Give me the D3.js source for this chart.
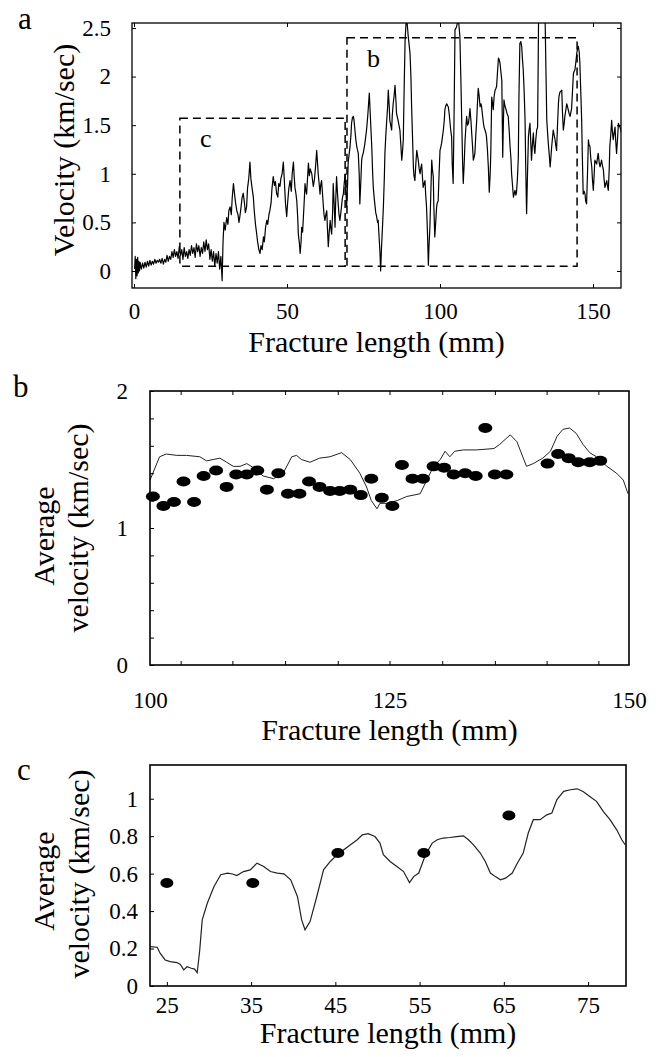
<!DOCTYPE html>
<html>
<head>
<meta charset="utf-8">
<script src="https://cdn.jsdelivr.net/npm/d3@7"></script>
<style>
  body { margin: 0; background: #fff; }
</style>
</head>
<body>
<div class="chart"></div>
<script>
// ---- panel a: raw velocity trace [fracture length (mm), velocity (km/sec)]
var traceA = [
  [0.2,0.02],[0.4,0.15],[0.6,-0.08],[0.8,0.12],[1.0,-0.05],[1.2,0.14],[1.4,-0.02],[1.6,0.1],[1.8,0.0],[2.0,0.09],
  [2.4,0.02],[2.8,0.08],[3.2,0.03],[3.6,0.09],[4.0,0.04],[4.4,0.1],[4.8,0.05],[5.2,0.11],[5.6,0.06],[6.0,0.1],
  [6.4,0.07],[6.8,0.12],[7.2,0.08],[7.6,0.11],[8.0,0.09],[8.4,0.12],[8.8,0.08],[9.2,0.13],[9.6,0.07],[10.0,0.12],
  [10.4,0.09],[10.8,0.16],[11.2,0.1],[11.6,0.15],[12.0,0.12],[12.4,0.2],[12.8,0.14],[13.2,0.22],[13.6,0.15],[14.0,0.2],
  [14.4,0.13],[14.8,0.25],[15.2,0.16],[15.6,0.22],[16.0,0.12],[16.4,0.24],[16.8,0.15],[17.2,0.2],[17.6,0.13],[18.0,0.22],
  [18.4,0.16],[18.8,0.26],[19.2,0.18],[19.6,0.24],[20.0,0.14],[20.4,0.28],[20.8,0.2],[21.2,0.26],[21.6,0.15],[22.0,0.24],
  [22.4,0.18],[22.8,0.3],[23.2,0.2],[23.6,0.32],[24.0,0.22],[24.4,0.28],[24.8,0.12],[25.2,0.22],[25.6,0.1],[26.0,0.2],
  [26.4,0.05],[26.8,0.18],[27.2,0.08],[27.6,0.2],[28.0,0.02],[28.4,0.15],[28.8,-0.1],[29.1,0.3],[29.4,0.5],[29.8,0.42],
  [30.3,0.55],[30.7,0.48],[31.0,0.62],[31.4,0.66],[31.8,0.58],[32.1,0.75],[32.5,0.9],[32.9,0.78],[33.2,0.7],[33.6,0.62],
  [34.0,0.58],[34.3,0.5],[34.6,0.56],[35.0,0.66],[35.3,0.75],[35.7,0.8],[36.1,0.7],[36.4,0.6],[36.8,0.66],[37.1,0.85],
  [37.5,0.95],[37.9,1.12],[38.2,0.95],[38.6,0.85],[39.0,0.76],[39.3,0.62],[39.7,0.48],[40.1,0.38],[40.4,0.3],[40.8,0.22],
  [41.2,0.18],[41.5,0.26],[41.9,0.22],[42.3,0.35],[42.6,0.3],[43.0,0.45],[43.4,0.52],[43.7,0.48],[44.1,0.58],[44.4,0.62],
  [44.8,0.7],[45.1,0.85],[45.5,0.97],[45.9,0.88],[46.2,0.92],[46.6,0.8],[47.0,0.76],[47.3,0.9],[47.7,0.87],[48.0,0.95],
  [48.4,1.0],[48.8,1.12],[49.1,0.95],[49.5,0.7],[49.9,0.56],[50.2,0.7],[50.6,0.85],[51.0,0.93],[51.4,0.82],[51.7,1.0],
  [52.1,1.12],[52.4,0.95],[52.6,0.86],[52.9,0.8],[53.2,0.72],[53.5,0.55],[53.7,0.38],[54.0,0.3],[54.3,0.18],[54.6,0.3],
  [54.8,0.45],[55.1,0.4],[55.3,0.52],[55.6,0.7],[55.9,0.9],[56.1,0.84],[56.4,0.79],[56.7,0.95],[57.0,1.11],[57.3,0.98],
  [57.6,1.05],[58.1,1.0],[58.4,0.92],[58.6,0.87],[59.0,0.95],[59.4,1.1],[59.7,1.24],[60.0,1.1],[60.2,1.0],[60.5,0.9],
  [60.8,0.79],[61.0,0.88],[61.3,0.93],[61.6,0.8],[61.9,0.66],[62.1,0.58],[62.4,0.52],[62.7,0.58],[63.0,0.62],[63.2,0.45],
  [63.5,0.25],[63.8,0.4],[64.1,0.52],[64.3,0.45],[64.6,0.38],[64.9,0.6],[65.1,0.9],[65.4,0.7],[65.7,0.45],[65.9,0.7],
  [66.2,0.97],[66.5,0.8],[66.8,0.66],[67.0,0.58],[67.3,0.52],[67.6,0.6],[67.9,0.69],[68.1,0.75],[68.4,0.79],[68.7,0.9],
  [69.0,1.0],[69.2,0.85],[69.5,0.66],[69.8,0.9],[70.0,1.12],[70.3,1.2],[70.6,1.28],[70.9,1.4],[71.1,1.52],[71.4,1.58],
  [71.7,1.59],[71.9,1.55],[72.2,1.45],[72.5,1.35],[72.8,1.28],[73.0,1.25],[73.3,1.21],[73.6,1.0],[73.8,0.69],[74.1,0.9],
  [74.4,1.14],[74.6,1.18],[74.9,1.21],[75.4,1.3],[76.0,1.45],[76.4,1.6],[76.9,1.83],[77.3,1.55],[77.7,1.28],[78.0,1.0],
  [78.2,0.86],[78.5,0.75],[78.7,0.69],[79.0,0.6],[79.3,0.56],[79.6,0.5],[79.8,0.52],[80.1,0.35],[80.4,0.18],[80.6,0.0],
  [80.9,0.25],[81.2,0.45],[81.5,0.66],[81.8,0.95],[82.0,1.21],[82.3,1.4],[82.6,1.55],[82.9,1.7],[83.1,1.86],[83.4,1.7],
  [83.6,1.55],[83.9,1.5],[84.2,1.45],[84.4,1.6],[84.7,1.72],[85.0,1.8],[85.3,1.91],[85.6,1.75],[85.8,1.62],[86.3,1.55],
  [86.9,1.45],[87.2,1.3],[87.5,1.14],[87.8,1.25],[88.0,1.35],[88.3,1.9],[88.6,2.38],[88.9,2.55],[89.1,2.6],[89.4,2.5],
  [89.6,2.42],[90.0,2.3],[90.2,2.24],[90.5,2.0],[90.7,1.72],[91.0,1.4],[91.3,1.07],[91.5,0.98],[91.8,0.93],[92.1,1.1],
  [92.4,1.24],[92.6,1.2],[92.9,1.14],[93.2,1.05],[93.5,1.0],[93.7,1.05],[94.0,1.1],[94.3,0.95],[94.5,0.86],[94.8,0.9],
  [95.1,0.93],[95.3,0.8],[95.6,0.66],[95.9,0.4],[96.2,0.06],[96.4,0.25],[96.7,0.45],[97.0,0.8],[97.3,1.14],[97.5,1.05],
  [97.8,0.97],[98.0,0.65],[98.3,0.35],[98.6,0.5],[98.9,0.66],[99.1,0.7],[99.4,0.72],[99.7,1.0],[100.0,1.24],[100.3,1.28],
  [100.5,1.31],[100.8,1.38],[101.1,1.45],[101.4,1.55],[101.6,1.66],[101.9,1.7],[102.2,1.72],[102.5,1.7],[102.7,1.69],[103.0,1.62],
  [103.2,1.55],[103.5,1.45],[103.8,1.38],[104.0,1.1],[104.3,0.9],[104.6,1.6],[104.9,2.48],[105.4,2.51],[106.0,2.6],[106.5,2.41],
  [106.8,2.0],[107.1,1.55],[107.4,1.1],[107.6,0.9],[107.9,1.1],[108.2,1.35],[108.5,1.5],[108.7,1.59],[109.0,1.5],[109.3,1.52],
  [109.6,1.6],[109.8,1.67],[110.1,1.55],[110.3,1.45],[110.6,1.3],[110.9,1.14],[111.2,1.18],[111.4,1.21],[111.7,1.4],[112.0,1.55],
  [112.2,1.7],[112.5,1.88],[112.8,1.8],[113.1,1.69],[113.4,1.72],[113.6,1.69],[113.9,1.6],[114.2,1.52],[114.4,1.48],[114.7,1.45],
  [115.0,1.42],[115.2,1.38],[115.5,1.25],[115.8,1.07],[116.1,0.81],[116.4,1.0],[116.6,1.21],[116.9,1.79],[117.2,1.72],[117.4,1.66],
  [117.7,1.8],[118.0,1.86],[118.3,1.88],[118.5,1.9],[118.8,2.05],[119.1,2.19],[119.3,2.18],[119.6,2.14],[119.9,2.05],[120.2,1.96],
  [120.5,1.17],[120.7,1.5],[120.9,1.76],[121.2,1.7],[121.6,1.66],[121.9,1.62],[122.3,1.59],[122.6,1.45],[122.9,1.28],[123.2,1.15],
  [123.4,1.0],[123.7,0.88],[124.0,0.76],[124.3,0.8],[124.5,0.83],[124.8,0.78],[125.0,0.81],[125.3,0.95],[125.6,1.17],[125.8,1.8],
  [126.1,2.34],[126.4,2.36],[126.7,2.31],[126.9,2.2],[127.2,2.07],[127.5,1.85],[127.8,1.55],[128.0,1.1],[128.3,0.59],[128.6,1.0],
  [128.9,1.38],[129.1,1.45],[129.4,1.52],[129.7,1.3],[129.9,1.14],[130.2,1.3],[130.5,1.42],[130.7,1.3],[131.0,1.21],[131.3,1.35],
  [131.6,1.45],[131.9,1.48],[132.1,2.2],[132.3,2.9],[133.0,3.0],[133.8,2.9],[134.3,2.7],[134.6,2.1],[134.9,1.55],[135.2,1.4],
  [135.4,1.31],[135.7,1.2],[136.0,1.07],[136.2,1.15],[136.5,1.28],[136.8,1.38],[137.0,1.45],[137.3,1.4],[137.6,1.35],[137.8,1.3],
  [138.1,1.24],[138.4,1.5],[138.7,1.72],[138.9,1.8],[139.2,1.84],[139.5,1.85],[139.8,1.86],[140.0,1.65],[140.3,1.45],[140.6,1.52],
  [140.8,1.59],[141.1,1.65],[141.4,1.72],[141.6,1.7],[141.9,1.66],[142.2,1.62],[142.5,1.59],[142.7,1.62],[143.0,1.67],[143.3,1.85],
  [143.6,2.03],[143.8,2.05],[144.1,2.07],[144.4,2.15],[144.7,2.24],[144.9,2.28],[145.2,2.31],[145.5,2.25],[145.7,2.14],[146.0,1.85],
  [146.3,1.55],[146.5,1.2],[146.8,0.79],[147.1,0.82],[147.4,0.79],[147.6,0.72],[147.9,0.69],[148.2,1.0],[148.5,1.35],[148.7,1.3],
  [149.0,1.28],[149.3,1.15],[149.6,1.07],[149.8,0.95],[150.1,0.83],[150.4,1.0],[150.6,1.14],[150.9,1.12],[151.2,1.1],[151.4,1.15],
  [151.7,1.21],[152.0,1.12],[152.3,1.07],[152.5,1.1],[152.8,1.14],[153.1,1.08],[153.4,1.04],[153.6,0.95],[153.9,0.86],[154.2,0.9],
  [154.5,0.93],[154.7,0.88],[155.0,0.83],[155.3,1.05],[155.5,1.28],[155.8,1.4],[156.1,1.55],[156.3,1.45],[156.6,1.35],[156.9,1.42],
  [157.2,1.48],[157.4,1.35],[157.7,1.21],[158.0,1.35],[158.3,1.52],[158.5,1.5],[158.8,1.48],[159.1,1.45],[159.4,1.4]
];
// dashed boxes marking the zoomed ranges
var boxNames = ["c", "b"];
var boxFrom = [15.0, 69.6];
var boxTo = [69.0, 144.8];
var boxBottom = [0.05, 0.05];
var boxTop = [1.57, 2.4];
var ticksAX = [0, 50, 100, 150];
var ticksAY = [0, 0.5, 1, 1.5, 2, 2.5];

// ---- panel b: running average line and averaged points
var lineB = [
  [100.0,1.35],[101.0,1.52],[101.7,1.54],[102.8,1.53],[103.8,1.53],[105.2,1.52],[105.9,1.49],[106.6,1.50],[107.3,1.51],
  [108.0,1.48],[108.7,1.45],[109.4,1.45],[110.1,1.47],[110.8,1.44],[111.8,1.38],[112.9,1.36],[113.9,1.40],[114.8,1.52],
  [115.3,1.53],[115.8,1.50],[116.7,1.48],[117.7,1.51],[118.8,1.52],[120.0,1.55],[120.9,1.50],[121.9,1.40],[122.6,1.30],
  [123.1,1.20],[123.7,1.14],[124.0,1.18],[124.7,1.18],[125.8,1.20],[126.8,1.23],[128.2,1.25],[128.9,1.35],[129.6,1.45],
  [130.3,1.50],[130.8,1.56],[131.3,1.52],[131.8,1.56],[132.7,1.57],[134.1,1.57],[135.9,1.58],[136.5,1.61],[137.6,1.68],
  [138.3,1.63],[139.3,1.45],[140.0,1.47],[141.0,1.51],[141.8,1.56],[142.5,1.67],[143.1,1.72],[143.8,1.73],[144.5,1.69],
  [145.2,1.61],[145.9,1.55],[146.6,1.52],[147.7,1.45],[148.7,1.40],[149.4,1.35],[149.9,1.25]
];
var dotsB = [
  [100.3,1.23],[101.4,1.16],[102.5,1.19],[103.5,1.34],[104.6,1.19],[105.6,1.38],[106.9,1.42],[108.0,1.30],[109.0,1.39],
  [110.1,1.39],[111.2,1.42],[112.2,1.28],[113.4,1.40],[114.4,1.25],[115.6,1.25],[116.6,1.34],[117.7,1.30],[118.8,1.27],
  [119.8,1.27],[120.9,1.28],[122.0,1.24],[123.1,1.36],[124.2,1.22],[125.3,1.16],[126.3,1.46],[127.4,1.36],[128.5,1.36],
  [129.6,1.45],[130.7,1.44],[131.7,1.39],[132.9,1.40],[134.0,1.38],[135.0,1.73],[136.0,1.39],[137.2,1.39],[141.5,1.47],
  [142.6,1.54],[143.7,1.51],[144.7,1.48],[145.9,1.48],[147.0,1.49]
];
var ticksBX = [103.2, 108.6, 114.1, 119.6, 125, 130.5, 136, 141.4, 146.8];
var labelsBX = [100, 125, 150];
var ticksBY = [0, 0.2, 0.4, 0.6, 0.8, 1, 1.2, 1.4, 1.6, 1.8, 2];
var labelsBY = [0, 1, 2];

// ---- panel c
var lineC = [
  [23.0,0.21],[23.85,0.207],[24.2,0.175],[24.8,0.139],[25.4,0.13],[26.2,0.125],[26.6,0.115],[27.0,0.086],[27.4,0.103],
  [27.9,0.095],[28.3,0.09],[28.6,0.071],[28.9,0.19],[29.2,0.353],[29.8,0.442],[30.6,0.531],[31.4,0.594],[32.2,0.603],
  [32.8,0.598],[33.3,0.59],[34.1,0.611],[34.9,0.62],[35.7,0.656],[36.5,0.638],[37.3,0.611],[38.1,0.603],[38.9,0.599],
  [39.7,0.567],[40.5,0.478],[41.0,0.353],[41.4,0.30],[42.0,0.344],[42.8,0.478],[43.6,0.62],[44.4,0.665],[45.2,0.70],
  [46.0,0.727],[46.8,0.754],[47.6,0.781],[48.2,0.807],[48.9,0.813],[49.7,0.798],[50.3,0.763],[50.7,0.701],[51.5,0.665],
  [52.3,0.638],[53.1,0.611],[53.8,0.552],[54.3,0.584],[54.9,0.603],[55.7,0.701],[56.5,0.763],[57.1,0.781],[57.8,0.79],
  [58.6,0.793],[59.4,0.798],[60.2,0.802],[60.8,0.781],[61.4,0.754],[62.2,0.71],[62.8,0.665],[63.4,0.603],[64.0,0.584],
  [64.6,0.567],[65.2,0.576],[66.0,0.603],[66.5,0.647],[67.3,0.71],[67.9,0.817],[68.5,0.888],[69.3,0.888],[70.1,0.914],
  [70.7,0.924],[71.3,0.995],[72.1,1.039],[72.9,1.048],[73.7,1.053],[74.4,1.039],[75.2,1.012],[76.0,0.986],[76.8,0.932],
  [77.6,0.888],[78.4,0.834],[79.0,0.781],[79.4,0.754]
];
var dotsC = [[25.0,0.55],[35.2,0.55],[45.3,0.71],[55.5,0.71],[65.6,0.91]];
var ticksCX = [25, 35, 45, 55, 65, 75];
var ticksCY = [0, 0.2, 0.4, 0.6, 0.8, 1];

var FONT = "Liberation Serif, Tinos, Times New Roman, Times, Nimbus Roman, Nimbus Roman No9 L, FreeSerif, Noto Serif, DejaVu Serif, serif";
var TICK_FONT = 23, TITLE_FONT = 30;

var svg = d3.select(".chart").append("svg")
  .attr("width", 660)
  .attr("height", 1057)
  .style("font-family", FONT);
svg.append("rect").attr("width", 660).attr("height", 1057).attr("fill", "#fff");

// draw an axis, drop its domain line, restyle its text
function addAxis(axis, tx, ty) {
  var g = svg.append("g")
    .attr("transform", `translate(${tx},${ty})`)
    .call(axis);
  g.select(".domain").remove();
  g.attr("font-size", TICK_FONT).attr("font-family", null);
  g.selectAll("text").style("font-family", FONT).attr("fill", "#000");
  g.selectAll("line").attr("stroke", "#000").attr("stroke-width", 1);
  return g;
}

function frame(x, y, width) {
  svg.append("rect")
    .attr("x", x.range()[0]).attr("y", y.range()[1])
    .attr("width", x.range()[1] - x.range()[0])
    .attr("height", y.range()[0] - y.range()[1])
    .attr("fill", "none").attr("stroke", "#000").attr("stroke-width", width);
}

function yTitle(lines, xs, cy) {
  lines.forEach(function(t, i) {
    svg.append("text")
      .attr("transform", `translate(${xs[i]},${cy[i]}) rotate(-90)`)
      .attr("text-anchor", "middle")
      .style("font-family", FONT)
      .attr("font-size", TITLE_FONT)
      .text(t);
  });
}

function xTitle(x, baseline) {
  svg.append("text")
    .attr("x", (x.range()[0] + x.range()[1]) / 2)
    .attr("y", baseline)
    .attr("text-anchor", "middle")
    .style("font-family", FONT)
    .attr("font-size", TITLE_FONT)
    .text("Fracture length (mm)");
}

function panelLetter(t, x, y) {
  svg.append("text").attr("x", x).attr("y", y)
    .style("font-family", FONT).attr("font-size", 31).text(t);
}

// ================= panel a
var xA = d3.scaleLinear().domain([-0.65, 159.15]).range([132, 621]);
var yA = d3.scaleLinear().domain([-0.175, 2.551]).range([288, 23]);

svg.append("clipPath").attr("id", "clipA")
  .append("rect").attr("x", 132).attr("y", 23).attr("width", 489).attr("height", 265);

svg.append("path")
  .datum(traceA)
  .attr("clip-path", "url(#clipA)")
  .attr("fill", "none")
  .attr("stroke", "#000")
  .attr("stroke-width", 1.2)
  .attr("stroke-linejoin", "round")
  .attr("d", d3.line().x(d => xA(d[0])).y(d => yA(d[1])));

boxNames.forEach(function(name, i) {
  var x0 = xA(boxFrom[i]), x1 = xA(boxTo[i]), y0 = yA(boxTop[i]), y1 = yA(boxBottom[i]);
  svg.append("rect")
    .attr("x", x0).attr("y", y0).attr("width", x1 - x0).attr("height", y1 - y0)
    .attr("fill", "none").attr("stroke", "#000").attr("stroke-width", 1.5)
    .attr("stroke-dasharray", "8,5");
  svg.append("text")
    .attr("x", x0 + 20).attr("y", y0 + 29)
    .style("font-family", FONT)
    .attr("font-size", 26)
    .text(name);
});

frame(xA, yA, 1.3);
addAxis(d3.axisBottom(xA).tickValues(ticksAX).tickSize(-4).tickPadding(15).tickFormat(d3.format("d")), 0, 288);
addAxis(d3.axisTop(xA).tickValues(ticksAX).tickSize(-4).tickFormat(""), 0, 23);
addAxis(d3.axisLeft(yA).tickValues(ticksAY).tickSize(-4).tickPadding(21).tickFormat(d3.format("~g")), 132, 0);
addAxis(d3.axisRight(yA).tickValues(ticksAY).tickSize(-4).tickFormat(""), 621, 0);
xTitle(xA, 352);
yTitle(["Velocity (km/sec)"], [74], [150]);
panelLetter("a", 18, 29);

// ================= panel b
var xB = d3.scaleLinear().domain([100, 150]).range([150, 629]);
var yB = d3.scaleLinear().domain([0, 2]).range([665, 391]);

svg.append("path")
  .datum(lineB)
  .attr("fill", "none")
  .attr("stroke", "#222")
  .attr("stroke-width", 1)
  .attr("d", d3.line().x(d => xB(d[0])).y(d => yB(d[1])));

svg.append("g").selectAll("ellipse")
  .data(dotsB)
  .enter()
  .append("ellipse")
  .attr("cx", d => xB(d[0]))
  .attr("cy", d => yB(d[1]))
  .attr("rx", 7)
  .attr("ry", 5)
  .attr("fill", "#000");

frame(xB, yB, 1.6);
addAxis(d3.axisBottom(xB).tickValues(ticksBX).tickSize(-4).tickFormat(""), 0, 665);
addAxis(d3.axisBottom(xB).tickValues(labelsBX).tickSize(0).tickPadding(27).tickFormat(d3.format("d")), 0, 665);
addAxis(d3.axisTop(xB).tickValues(ticksBX).tickSize(-4).tickFormat(""), 0, 391);
addAxis(d3.axisLeft(yB).tickValues(ticksBY).tickSize(-4).tickFormat(""), 150, 0);
addAxis(d3.axisLeft(yB).tickValues(labelsBY).tickSize(0).tickPadding(22).tickFormat(d3.format("d")), 150, 0);
xTitle(xB, 740);
yTitle(["Average", "velocity (km/sec)"], [54, 88], [536, 528]);
panelLetter("b", 13, 397);

// ================= panel c
var xC = d3.scaleLinear().domain([23.0, 79.5]).range([150, 626]);
var yC = d3.scaleLinear().domain([0, 1.18]).range([986, 765]);

svg.append("path")
  .datum(lineC)
  .attr("fill", "none")
  .attr("stroke", "#222")
  .attr("stroke-width", 1.2)
  .attr("d", d3.line().x(d => xC(d[0])).y(d => yC(d[1])));

svg.append("g").selectAll("ellipse")
  .data(dotsC)
  .enter()
  .append("ellipse")
  .attr("cx", d => xC(d[0]))
  .attr("cy", d => yC(d[1]))
  .attr("rx", 6.5)
  .attr("ry", 5)
  .attr("fill", "#000");

frame(xC, yC, 1.6);
addAxis(d3.axisBottom(xC).tickValues(ticksCX).tickSize(-4).tickPadding(11).tickFormat(d3.format("d")), 0, 986);
addAxis(d3.axisLeft(yC).tickValues(ticksCY).tickSize(-4).tickPadding(12)
  .tickFormat(d => (d === 0 || d === 1) ? String(d) : d.toFixed(1)), 150, 0);
xTitle(xC, 1043);
yTitle(["Average", "velocity (km/sec)"], [54, 89], [881, 874]);
panelLetter("c", 17, 780);
</script>
</body>
</html>
